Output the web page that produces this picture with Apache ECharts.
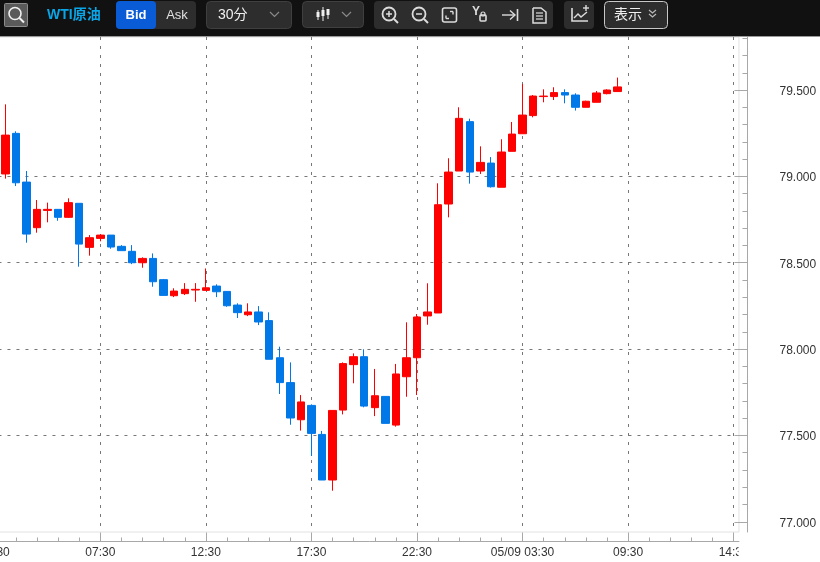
<!DOCTYPE html>
<html><head><meta charset="utf-8">
<style>html,body{margin:0;padding:0;background:#fff}#c{width:820px;height:562px}</style>
<script src="https://cdn.jsdelivr.net/npm/echarts@6/dist/echarts.min.js"></script>
</head><body><div id="c"></div>
<script>
// category labels, 30-minute candles (first slot lies left of the visible area)
const categories = ['02:30','03:00','03:30','04:00','04:30','05:00','05:30','06:00','06:30','07:00',
 '07:30','08:00','08:30','09:00','09:30','10:00','10:30','11:00','11:30','12:00',
 '12:30','13:00','13:30','14:00','14:30','15:00','15:30','16:00','16:30','17:00',
 '17:30','18:00','18:30','19:00','19:30','20:00','20:30','21:00','21:30','22:00',
 '22:30','23:00','23:30','00:00','00:30','01:00','01:30','02:00','02:30','03:00',
 '05/09 03:30','04:00','04:30','05:00','05:30','07:00','07:30','08:00','08:30','09:00',
 '09:30','10:00','10:30','11:00','11:30','12:00','12:30','13:00','13:30','14:00','14:30'];
const opens = [null,79.014,79.249,78.967,78.703,78.803,78.809,78.763,78.844,78.589,78.641,78.660,78.595,78.566,78.500,78.525,78.402,78.309,78.321,78.342,78.340,78.365,78.334,78.255,78.199,78.215,78.165,77.950,77.806,77.591,77.674,77.506,77.242,77.647,77.910,77.956,77.661,77.726,77.560,77.840,77.950,78.192,78.209,78.840,79.031,79.317,79.031,79.077,78.937,79.145,79.247,79.352,79.462,79.462,79.485,79.471,79.400,79.429,79.479,79.491];
const closes = [null,79.239,78.963,78.666,78.809,78.809,78.763,78.848,78.608,78.645,78.660,78.591,78.570,78.500,78.525,78.390,78.311,78.336,78.346,78.346,78.355,78.332,78.251,78.211,78.215,78.157,77.941,77.806,77.601,77.694,77.512,77.242,77.645,77.916,77.956,77.670,77.730,77.570,77.856,77.950,78.186,78.215,78.836,79.025,79.336,79.025,79.081,78.940,79.141,79.245,79.355,79.465,79.465,79.485,79.471,79.400,79.435,79.483,79.500,79.518];
const lows = [null,78.987,78.944,78.616,78.674,78.734,78.743,78.760,78.477,78.541,78.624,78.581,78.570,78.492,78.471,78.361,78.311,78.301,78.313,78.274,78.340,78.301,78.245,78.180,78.191,78.139,77.941,77.740,77.562,77.528,77.381,77.242,77.180,77.622,77.802,77.663,77.612,77.570,77.551,77.724,77.734,78.141,78.209,78.763,79.031,78.958,79.014,78.935,78.937,79.145,79.247,79.342,79.429,79.442,79.423,79.381,79.400,79.429,79.475,79.491];
const highs = [null,79.417,79.261,79.031,78.863,78.848,78.810,78.873,78.845,78.660,78.666,78.660,78.602,78.602,78.531,78.554,78.406,78.352,78.382,78.382,78.467,78.375,78.336,78.265,78.265,78.249,78.213,78.014,77.923,77.734,77.680,77.526,77.645,77.923,77.975,77.999,77.885,77.726,77.914,78.155,78.203,78.381,78.960,79.105,79.400,79.334,79.174,79.112,79.215,79.315,79.535,79.471,79.504,79.516,79.504,79.481,79.438,79.494,79.504,79.572];
const priceLabels = [77,77.5,78,78.5,79,79.5];
const priceMinorTicks = [77.1,77.2,77.3,77.4,77.6,77.7,77.8,77.9,78.1,78.2,78.3,78.4,78.6,78.7,78.8,78.9,79.1,79.2,79.3,79.4,79.6,79.7,79.8];
const toolbarTexts = {inst:'WTI原油',bid:'Bid',ask:'Ask',period:'30分',show:'表示'};

const candles = opens.map((o,i)=> o===null ? ['-','-','-','-'] : [o,closes[i],lows[i],highs[i]]);
const RED='#ff0000', BLUE='#0078e8', AX='#a8a8a8', TXT='#333', DASH=[3,6];
const yMin=76.941, yMax=79.807;
const font='"Liberation Sans",Arial,sans-serif', cjk='"Liberation Sans","Noto Sans CJK JP",sans-serif';

// toolbar helpers
const g=[];
const Z=50;
function rect(x,y,w,h,fill,r,stroke){g.push({type:'rect',z:Z,silent:true,shape:{x,y,width:w,height:h,r:r||0},style:{fill,stroke:stroke||null,lineWidth:1}});}
function text(x,y,t,fill,f,al){g.push({type:'text',z:Z+1,silent:true,style:{x,y,text:t,fill,font:f,textAlign:al||'left',textVerticalAlign:'middle'}});}
function line(pts,c,w){g.push({type:'polyline',z:Z+1,silent:true,shape:{points:pts},style:{stroke:c||'#d8d8d8',lineWidth:w||1.6,fill:null}});}
function circ(x,y,r,c,w){g.push({type:'circle',z:Z+1,silent:true,shape:{cx:x,cy:y,r},style:{stroke:c||'#d8d8d8',lineWidth:w||1.6,fill:null}});}
function box(x,y,w,h,fill,c,lw,r){g.push({type:'rect',z:Z+1,silent:true,shape:{x,y,width:w,height:h,r:r||0},style:{fill:fill||null,stroke:c||null,lineWidth:lw||1}});}
const BTN='#2d2d2d', ICON='#dcdcdc';
rect(0,0,820,36,'#111111');
rect(0,36,820,1,'#9a9a9a');
// search
rect(4.5,3.5,23,23,'#5a5a5a',1,'#8c8c8c');
circ(15,13.5,6,'#f0f0f0',1.6); line([[19.5,18],[24,22.5]],'#f0f0f0',2);
text(47,15,toolbarTexts.inst,'#0aa5e6','bold 14px '+cjk);
// bid/ask
rect(116,1,80,28,BTN,4);
rect(116,1,40,28,'#0a5cd6',4);
text(136,15,toolbarTexts.bid,'#ffffff','bold 13px '+font,'center');
text(177,15,toolbarTexts.ask,'#e0e0e0','13px '+font,'center');
// period
rect(206.5,1.5,85,27,BTN,4,'#3f3f3f');
text(218,15,toolbarTexts.period,'#f0f0f0','14px '+cjk);
line([[270,12],[274.5,16.5],[279,12]],'#8a8a8a',1.2);
// chart type
rect(302.5,1.5,61,26,BTN,4,'#3f3f3f');
[[318,10,20,12,17],[323,7,21,10,16],[328,9,19,9,15]].forEach(a=>{line([[a[0],a[1]],[a[0],a[2]]],'#f0f0f0',1);box(a[0]-1.5,a[3],3,a[4]-a[3],'#f0f0f0');});
line([[342,12],[346.5,16.5],[351,12]],'#8a8a8a',1.2);
// tool group
rect(374,1,179,28,BTN,4);
circ(389,14,6.5,ICON,1.8); line([[394,19],[398,23]],ICON,2); line([[386,14],[392,14]],ICON,1.5); line([[389,11],[389,17]],ICON,1.5);
circ(419,14,6.5,ICON,1.8); line([[424,19],[428,23]],ICON,2); line([[416,14],[422,14]],ICON,1.5);
box(442.5,8,14,14,null,ICON,1.6,2); line([[446,18.5],[449,18.5]],ICON,1.4); line([[446,18.5],[446,15.5]],ICON,1.4); line([[453,11.5],[450,11.5]],ICON,1.4); line([[453,11.5],[453,14.5]],ICON,1.4);
text(472,12,'Y',ICON,'bold 12px '+font); box(480,15,6,6,null,ICON,1.6,1); circ(483,14,2,ICON,1.2);
line([[502,15],[515,15]],ICON,1.4); line([[510,10.5],[515,15],[510,19.5]],ICON,1.4); line([[517.5,9],[517.5,21]],ICON,1.6);
line([[533,8],[541,8],[546,12],[546,23],[533,23],[533,8]],ICON,1.5); line([[536,13],[543,13]],ICON,1.2); line([[536,16],[543,16]],ICON,1.2); line([[536,19],[543,19]],ICON,1.2);
// indicator
rect(564,1,30,28,BTN,4);
line([[572,8],[572,21],[588,21]],ICON,1.6); line([[574,18],[578,14],[581,17],[587,12]],ICON,1.4); line([[583,8],[589,8]],ICON,1.4); line([[586,5],[586,11]],ICON,1.4);
// display
rect(604.5,1.5,63,27,BTN,4,'#c8c8c8');
text(614,15,toolbarTexts.show,'#f0f0f0','14px '+cjk);
line([[649,10],[652.5,13],[656,10]],'#bbb',1.2); line([[649,14],[652.5,17],[656,14]],'#bbb',1.2);
// mask clipping the last time label at the plot edge
rect(738.5,543,30,19,'#ffffff');

const xBase={type:'category',data:categories,boundaryGap:true,axisLine:{show:false},axisTick:{show:false},axisLabel:{show:false},splitLine:{show:false}};
const isMajor=i=>i%10===0;
const chart=echarts.init(document.getElementById('c'),null,{renderer:'canvas'});
chart.setOption({
 animation:false,backgroundColor:'#ffffff',
 grid:{left:-10.54,top:37,width:749.5,height:495,show:true,borderColor:'#e2e2e2',borderWidth:1,backgroundColor:'transparent',containLabel:false,outerBoundsMode:'none'},
 xAxis:[
  Object.assign({},xBase,{axisTick:{show:false,alignWithLabel:true,interval:isMajor},splitLine:{show:true,alignWithLabel:true,interval:isMajor,lineStyle:{color:'#777',type:DASH,width:1}}}),
  Object.assign({},xBase,{position:'bottom',offset:9.5,axisLine:{show:true,lineStyle:{color:AX}},
    axisTick:{show:true,inside:true,length:9,alignWithLabel:true,interval:isMajor,lineStyle:{color:AX}},
    axisLabel:{show:true,interval:isMajor,margin:5,color:TXT,fontSize:12,fontFamily:font,hideOverlap:false,showMinLabel:true,showMaxLabel:true}}),
  Object.assign({},xBase,{position:'bottom',offset:9.5,
    axisTick:{show:true,inside:true,length:4,alignWithLabel:true,interval:i=>i%2===0,lineStyle:{color:AX}}})
 ],
 yAxis:[
  {type:'value',position:'right',offset:8.5,min:yMin,max:yMax,interval:0.5,scale:true,
   axisLine:{show:true,lineStyle:{color:AX}},
   axisTick:{show:true,inside:true,length:13,customValues:priceLabels,lineStyle:{color:AX}},
   axisLabel:{show:true,margin:32,customValues:priceLabels,formatter:v=>'{p|'+v.toFixed(3)+'}',
     rich:{p:{color:TXT,fontSize:12,fontFamily:font,padding:[3,0,0,0]}}},
   splitLine:{show:true,showMinLine:false,showMaxLine:false,lineStyle:{color:'#777',type:DASH,width:1}}},
  {type:'value',position:'right',offset:8.5,min:yMin,max:yMax,interval:0.5,scale:true,
   axisLine:{show:false},axisLabel:{show:false},splitLine:{show:false},
   axisTick:{show:true,inside:true,length:5,customValues:priceMinorTicks,lineStyle:{color:AX}}}
 ],
 series:[{type:'candlestick',xAxisIndex:0,yAxisIndex:0,data:candles,barWidth:8,clip:false,silent:true,
   itemStyle:{color:RED,color0:BLUE,borderColor:RED,borderColor0:BLUE,borderWidth:1}}],
 graphic:{elements:g}
});
</script></body></html>
